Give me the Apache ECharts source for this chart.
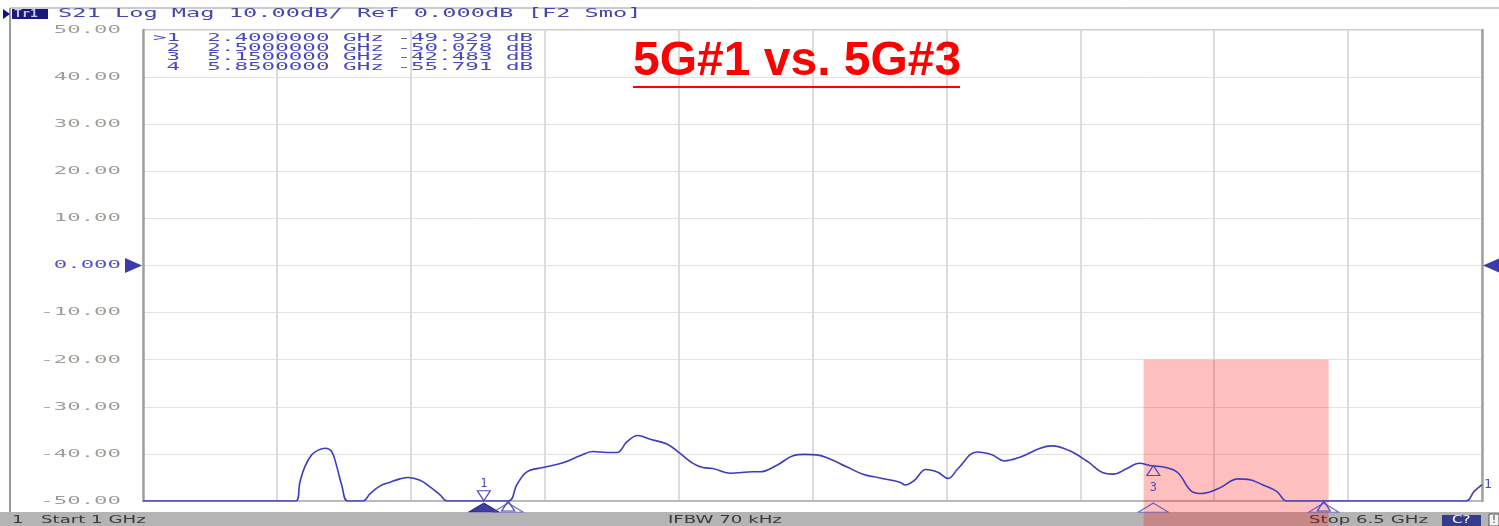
<!DOCTYPE html>
<html>
<head>
<meta charset="utf-8">
<script src="https://cdn.jsdelivr.net/npm/echarts@6/dist/echarts.min.js"></script>
<style>
html, body { margin: 0; padding: 0; background: #fff; }
#chart { width: 1499px; height: 526px; }
</style>
</head>
<body>
<div id="chart"></div>
<script>
// S21 trace (GHz / dB), clipped at the bottom of the screen
var freqs = [1.000, 1.627, 1.645, 1.665, 1.693, 1.720, 1.748, 1.775, 1.796, 1.816, 1.841,
  1.904, 1.932, 1.974, 2.015, 2.056, 2.089, 2.138, 2.179, 2.220, 2.249,
  2.499, 2.536, 2.577, 2.643, 2.725, 2.795, 2.848, 2.906, 2.947, 2.988, 3.033, 3.083, 3.152,
  3.206, 3.259, 3.300, 3.341, 3.411, 3.506, 3.534, 3.604, 3.670, 3.719, 3.768, 3.822, 3.892,
  3.957, 4.027, 4.109, 4.130, 4.167, 4.216, 4.265, 4.307, 4.348, 4.426, 4.487, 4.537, 4.607,
  4.685, 4.734, 4.804, 4.882, 4.943, 4.984, 5.042, 5.091, 5.141, 5.202, 5.251, 5.309, 5.350,
  5.420, 5.498, 5.539, 5.601, 5.658, 5.699, 6.434, 6.467, 6.500];
var s21 = [-50, -50, -45.9, -42.7, -40.2, -39.2, -38.8, -39.5, -42.7, -46.6, -50,
  -50, -48.5, -46.8, -46.0, -45.3, -45.0, -45.6, -47.0, -48.7, -50,
  -50, -46.5, -43.8, -42.9, -41.9, -40.4, -39.5, -39.7, -39.7, -37.4, -36.1, -36.9, -37.9,
  -39.9, -42.0, -42.9, -43.1, -44.1, -43.8, -43.8, -42.4, -40.4, -40.1, -40.2, -41.1, -42.8,
  -44.3, -45.1, -46.0, -46.6, -45.7, -43.3, -43.9, -45.2, -43.1, -39.6, -40.2, -41.5, -40.6,
  -38.8, -38.3, -39.3, -41.7, -44.0, -44.3, -43.1, -42.0, -42.5, -42.9, -44.0, -48.0, -48.4,
  -47.3, -45.3, -45.4, -46.6, -48.0, -50, -50, -48.0, -46.5];

var yTicks = [50, 40, 30, 20, 10, 0, -10, -20, -30, -40, -50];
var yTickLabels = ['50.00', '40.00', '30.00', '20.00', '10.00', '0.000', '-10.00', '-20.00', '-30.00', '-40.00', '-50.00'];

var markerNames = ['1', '2', '3', '4'];
var markerFreqs = [2.4, 2.5, 5.15, 5.85];
var markerValues = [-49.929, -50.078, -42.483, -55.791];

var bandFrom = 5.11;
var bandTo = 5.87;
var bandTop = -20;

var headerText = 'S21 Log Mag 10.00dB/ Ref 0.000dB [F2 Smo]';
var titleText = '5G#1 vs. 5G#3';
var startText = 'Start 1 GHz';
var ifbwText = 'IFBW 70 kHz';
var stopText = 'Stop 6.5 GHz';

var yMin = -50, yMax = 50;
var traceColor = '#3c3cbe';
var mono = '"DejaVu Sans Mono", monospace';

var chart = echarts.init(document.getElementById('chart'));

var traceData = [];
for (var i = 0; i < freqs.length; i++) {
  traceData.push([freqs[i], s21[i]]);
}

var openStyle = { color: 'rgba(255,255,255,0)', borderColor: '#4a4ac4', borderWidth: 1.2 };
var markPts = [];
var indicators = [];
for (var i = 0; i < markerFreqs.length; i++) {
  var v = Math.max(markerValues[i], yMin);
  if (i == 0) {
    markPts.push({
      coord: [markerFreqs[i], v], symbol: 'triangle', symbolRotate: 180,
      symbolSize: [13, 10], symbolOffset: [0, -5], itemStyle: openStyle,
      label: { show: true, position: 'top', distance: 0, formatter: markerNames[i], color: '#4a4ac4', fontFamily: mono, fontSize: 12 }
    });
    indicators.push({ value: [markerFreqs[i], -51.4], itemStyle: { color: '#10108a', borderColor: '#10108a' } });
  } else {
    markPts.push({
      coord: [markerFreqs[i], v], symbol: 'triangle',
      symbolSize: [13, 10], symbolOffset: [0, 5], itemStyle: openStyle,
      label: { show: markerValues[i] >= yMin, position: 'bottom', distance: 6, formatter: markerNames[i], color: '#4a4ac4', fontFamily: mono, fontSize: 12 }
    });
    indicators.push({ value: [markerFreqs[i], -51.4], itemStyle: openStyle });
  }
}

chart.setOption({
  animation: false,
  grid: { left: 143, right: 17, top: 30, bottom: 25, show: true, borderColor: '#a0a0a0', borderWidth: 1 },
  xAxis: {
    type: 'value', min: 1, max: 6.5, interval: 0.55,
    axisLine: { show: true, onZero: false, lineStyle: { color: '#b0b0b0', width: 1.5 } },
    axisTick: { show: false }, axisLabel: { show: false },
    splitLine: { show: true, lineStyle: { color: '#dcdcdc', width: 2 } }
  },
  yAxis: [{
    type: 'value', min: yMin, max: yMax, interval: 10,
    axisLine: { show: true, onZero: false, lineStyle: { color: '#a0a0a0', width: 2.5 } },
    axisTick: { show: false }, axisLabel: { show: false },
    splitLine: { show: true, lineStyle: { color: '#e2e2e2', width: 1 } }
  }, {
    type: 'value', min: yMin, max: yMax, interval: 10, position: 'right',
    axisLine: { show: true, onZero: false, lineStyle: { color: '#a0a0a0', width: 2.5 } },
    axisTick: { show: false }, axisLabel: { show: false }, splitLine: { show: false }
  }],
  series: [{
    type: 'line', name: 'S21', data: traceData, showSymbol: false,
    smooth: 0.4,
    lineStyle: { color: traceColor, width: 1.6 }, itemStyle: { color: traceColor },
    endLabel: { show: true, formatter: '1', color: '#4a4ac4', fontFamily: mono, fontSize: 13, distance: 2 },
    markPoint: { data: markPts, silent: true }
  }, {
    type: 'scatter', name: 'indicators', data: indicators, clip: false,
    symbol: 'triangle', symbolSize: [30, 9], silent: true
  }, {
    type: 'scatter', name: 'ref', clip: false, silent: true, symbol: 'triangle',
    data: [
      { value: [0.961, 0], symbolRotate: -90 },
      { value: [6.539, 0], symbolRotate: 90 }
    ],
    symbolSize: [15, 17], itemStyle: { color: '#0a0a96' }
  }]
});

// texts and decorations placed through the chart's own scales
var g = [];
for (var i = 0; i < yTicks.length; i++) {
  var py = chart.convertToPixel({ yAxisIndex: 0 }, yTicks[i]);
  g.push({
    type: 'text', x: 121, y: py, scaleX: 2.03, silent: true,
    style: { text: yTickLabels[i], fontFamily: mono, fontSize: 11,
      fill: yTicks[i] === 0 ? '#5050d0' : '#a39d98',
      align: 'right', textAlign: 'right', verticalAlign: 'middle', textVerticalAlign: 'middle' }
  });
}
for (var i = 0; i < markerFreqs.length; i++) {
  var line = (i == 0 ? '>' : ' ') + markerNames[i] + '  ' + markerFreqs[i].toFixed(7) + ' GHz ' + markerValues[i].toFixed(3) + ' dB';
  g.push({
    type: 'text', x: 153, y: 38.5 + i * 9.4, scaleX: 2.05, silent: true,
    style: { text: line, fontFamily: mono, fontSize: 11, fill: '#4848c0',
      align: 'left', textAlign: 'left', verticalAlign: 'middle', textVerticalAlign: 'middle' }
  });
}

// frame and header
g.push({ type: 'line', silent: true, shape: { x1: 10, y1: 8, x2: 1499, y2: 8 }, style: { stroke: '#9a9a9a', lineWidth: 1 } });
g.push({ type: 'line', silent: true, shape: { x1: 10, y1: 8, x2: 10, y2: 512 }, style: { stroke: '#9a9a9a', lineWidth: 2 } });
g.push({ type: 'polygon', silent: true, shape: { points: [[3, 9], [10, 14], [3, 19]] }, style: { fill: '#10108a' } });
g.push({ type: 'rect', silent: true, shape: { x: 12, y: 9, width: 36, height: 10 }, style: { fill: '#1a1a7a' } });
g.push({ type: 'text', x: 14, y: 14, scaleX: 1.2, silent: true,
  style: { text: 'Tr1', fontFamily: mono, fontSize: 11, fontWeight: 'bold', fill: '#c8c8e8', align: 'left', textAlign: 'left', verticalAlign: 'middle', textVerticalAlign: 'middle' } });
g.push({ type: 'text', x: 58, y: 14, scaleX: 1.97, silent: true,
  style: { text: headerText, fontFamily: mono, fontSize: 12, fill: '#4545b0', align: 'left', textAlign: 'left', verticalAlign: 'middle', textVerticalAlign: 'middle' } });

// status bar
g.push({ type: 'rect', silent: true, z: 0, shape: { x: 0, y: 512, width: 1499, height: 14 }, style: { fill: '#b4b4b4' } });
function status(txt, x) {
  g.push({ type: 'text', x: x, y: 520, scaleX: 1.65, silent: true,
    style: { text: txt, fontFamily: '"DejaVu Sans", sans-serif', fontSize: 11, fill: '#3a3a3a', align: 'left', textAlign: 'left', verticalAlign: 'middle', textVerticalAlign: 'middle' } });
}
status('1', 12);
status(startText, 41);
status(ifbwText, 668);
status(stopText, 1309);
g.push({ type: 'rect', silent: true, shape: { x: 1442, y: 515, width: 39, height: 11 }, style: { fill: '#363c8c' } });
g.push({ type: 'text', x: 1452, y: 520.5, scaleX: 1.5, silent: true,
  style: { text: 'C?', fontFamily: '"DejaVu Sans", sans-serif', fontSize: 10, fill: '#ffffff', align: 'left', textAlign: 'left', verticalAlign: 'middle', textVerticalAlign: 'middle' } });
g.push({ type: 'rect', silent: true, shape: { x: 1489, y: 514, width: 10, height: 12 }, style: { fill: '#f4f4f4', stroke: '#555', lineWidth: 1 } });
g.push({ type: 'text', x: 1492, y: 520.5, silent: true,
  style: { text: '!', fontFamily: '"DejaVu Sans", sans-serif', fontSize: 10, fill: '#333', align: 'left', textAlign: 'left', verticalAlign: 'middle', textVerticalAlign: 'middle' } });

// highlighted band
var b1 = chart.convertToPixel({ gridIndex: 0 }, [bandFrom, bandTop]);
var b2 = chart.convertToPixel({ gridIndex: 0 }, [bandTo, yMin]);
g.push({ type: 'rect', silent: true, z: 1, shape: { x: b1[0], y: b1[1], width: b2[0] - b1[0], height: 526 - b1[1] }, style: { fill: 'rgba(255,0,0,0.25)' } });

// title
g.push({ type: 'text', x: 633, y: 62, silent: true, z: 10,
  style: { text: titleText, fontFamily: '"Liberation Sans", Arial, sans-serif', fontSize: 48, fontWeight: 'bold', fill: '#ff0000',
    align: 'left', textAlign: 'left', verticalAlign: 'middle', textVerticalAlign: 'middle' } });
g.push({ type: 'line', silent: true, z: 10, shape: { x1: 633, y1: 87, x2: 960, y2: 87 }, style: { stroke: '#ff0000', lineWidth: 2 } });

chart.setOption({ graphic: g });
</script>
</body>
</html>
